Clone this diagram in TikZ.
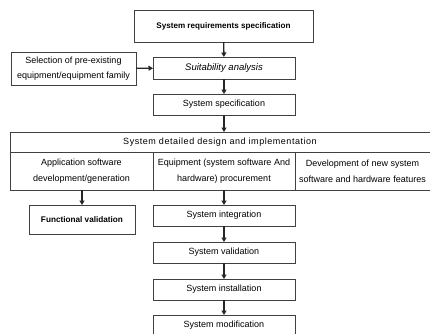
\documentclass[tikz,border=0pt]{standalone}
\usepackage{fontspec}
\setmainfont{Liberation Sans}
\newfontfamily\widefont[LetterSpace=6]{Liberation Sans}
\usetikzlibrary{shadows,arrows.meta}
\begin{document}
\begin{tikzpicture}[x=1pt,y=-1pt,
  box/.style={draw=black!75,line width=0.6pt,fill=white,inner sep=1pt,outer sep=0pt,align=center,
    font=\fontsize{9}{15}\selectfont,
    drop shadow={shadow xshift=0.9pt,shadow yshift=-0.9pt,fill=black!55,opacity=1}},
  cell/.style={draw=black!75,line width=0.6pt,inner sep=1pt,outer sep=0pt,align=center,
    font=\fontsize{9}{16}\selectfont},
  arr/.style={-{Triangle[length=4.5pt,width=5pt]},line width=1.4pt,black!85}]
\useasboundingbox (0,0) rectangle (430,333);
\fill[white] (0,0) rectangle (430,333);
% boxes: center, size
\node[box,minimum width=179pt,minimum height=32pt,font=\fontsize{8.1}{11}\selectfont\bfseries] (req) at (223.5,26) {System requirements specification};
\node[box,minimum width=125pt,minimum height=33pt] (sel) at (73.5,68.5) {Selection of pre-existing\\equipment/equipment family};
\node[box,minimum width=142pt,minimum height=22pt,font=\fontsize{9.5}{11}\selectfont\itshape] (suit) at (224,68) {Suitability analysis};
\node[box,minimum width=142pt,minimum height=21pt] (spec) at (224,104.5) {System specification};
% detailed design box
\node[cell,minimum width=420pt,minimum height=20pt,font=\fontsize{9}{11}\widefont] (det) at (220,142) {System detailed design and implementation};
\node[cell,minimum width=143pt,minimum height=38pt] (app) at (81.5,171) {Application software\\development/generation};
\node[cell,minimum width=142pt,minimum height=38pt] (equ) at (224,171) {Equipment (system software And\\hardware) procurement};
\node[cell,minimum width=135pt,minimum height=38pt] (dev) at (362.5,171) {Development of new system\\software and hardware features};
\draw[black!75,line width=1pt] (10,190.3) -- (430,190.3);
% lower boxes
\node[box,minimum width=106pt,minimum height=29pt,font=\fontsize{8.2}{11}\selectfont\bfseries] (fun) at (82,219.5) {Functional validation};
\node[box,minimum width=142pt,minimum height=21pt] (int) at (224,215.5) {System integration};
\node[box,minimum width=142pt,minimum height=21pt] (val) at (224,252.5) {System validation};
\node[box,minimum width=142pt,minimum height=21pt] (ins) at (224,289.5) {System installation};
\node[box,minimum width=142pt,minimum height=21pt] (mod) at (224,325.5) {System modification};
% arrows
\draw[arr] (req) -- (suit);
\draw[arr] (sel) -- (suit);
\draw[arr] (suit) -- (spec);
\draw[arr] (spec) -- (spec.south |- det.north);
\draw[arr] (app.south -| fun.north) -- (fun);
\draw[arr] (equ) -- (int);
\draw[arr] (int) -- (val);
\draw[arr] (val) -- (ins);
\draw[arr] (ins) -- (mod);
\end{tikzpicture}
\end{document}
